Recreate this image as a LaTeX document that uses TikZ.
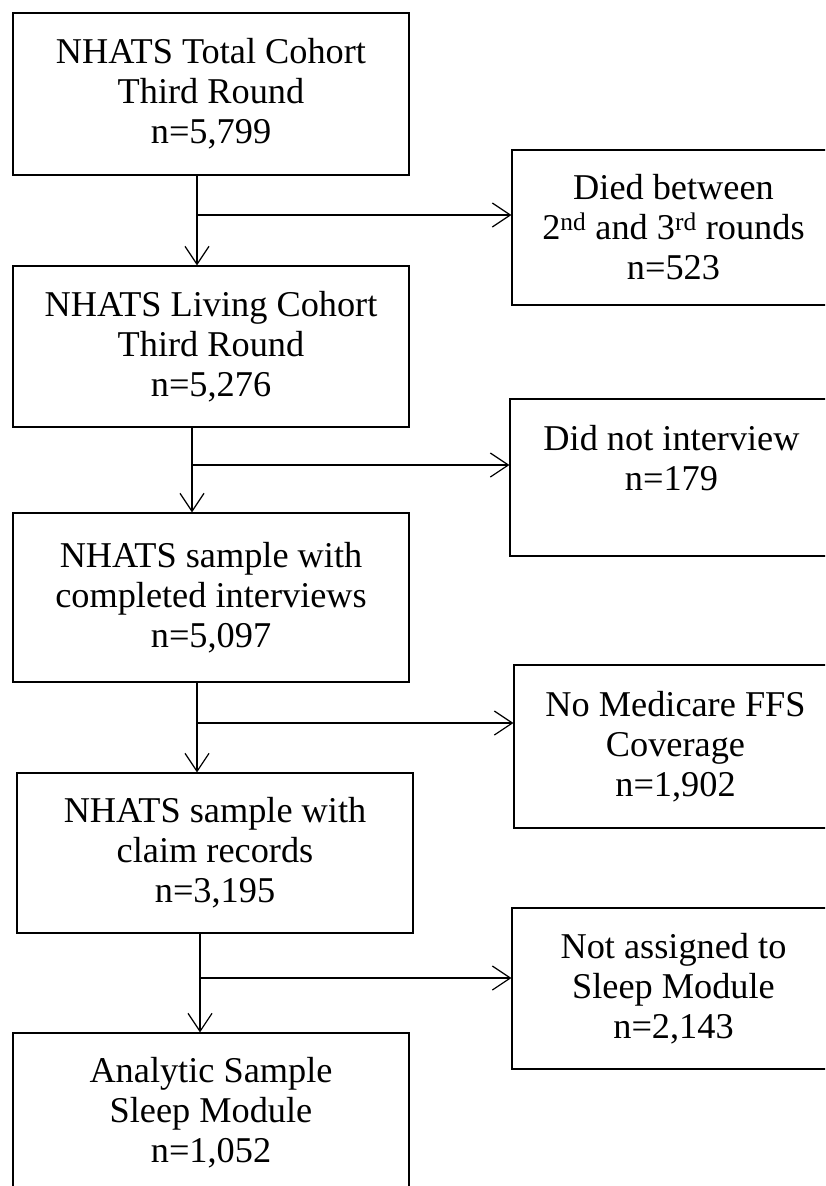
\documentclass[tikz,border=0pt]{standalone}
\usepackage{fontspec}
\setmainfont{Liberation Serif}
\usetikzlibrary{positioning, arrows.meta}

\begin{document}
\begin{tikzpicture}[x=1pt, y=-1pt,
  stage/.style={draw, line width=1.2pt, minimum width=396pt, align=center,
                inner sep=0pt, font=\fontsize{36.3}{40}\selectfont},
  excl/.style={stage, minimum width=323pt},
  flow/.style={line width=1.2pt, -{Straight Barb[length=18pt, width=24pt, line width=1.2pt]}}]
  \useasboundingbox (0,0) rectangle (825,1186);
  \clip (0,0) rectangle (825,1186);

  \node[stage, minimum height=162pt] (total) at (211,94) {NHATS Total Cohort\\Third Round\\n=5,799};
  \node[stage, minimum height=161pt] (living) at (211,346.5) {NHATS Living Cohort\\Third Round\\n=5,276};
  \node[stage, minimum height=169pt] (interv) at (211,597.5) {NHATS sample with\\completed interviews\\n=5,097};
  \node[stage, minimum height=160pt] (claims) at (215,853) {NHATS sample with\\claim records\\n=3,195};
  \node[stage, minimum height=160pt] (analytic) at (211,1113) {Analytic Sample\\Sleep Module\\n=1,052};

  \node[excl, minimum height=155pt] (died) at (673.5,227.5) {Died between\\2\textsuperscript{nd} and 3\textsuperscript{rd} rounds\\n=523};
  \node[excl, minimum height=157pt] (noint) at (671.5,477.5) {Did not interview\\n=179\\\mbox{}};
  \node[excl, minimum height=163pt] (noffs) at (675.5,746.5) {No Medicare FFS\\Coverage\\n=1,902};
  \node[excl, minimum height=161pt] (nosleep) at (673.5,988.5) {Not assigned to\\Sleep Module\\n=2,143};

  \coordinate (s1) at (197,215);
  \coordinate (s2) at (192,465);
  \coordinate (s3) at (197,723);
  \coordinate (s4) at (200,978);

  \draw[flow] (total.south -| s1) -- (living.north -| s1);
  \draw[flow] (s1) -- (s1 -| died.west);
  \draw[flow] (living.south -| s2) -- (interv.north -| s2);
  \draw[flow] (s2) -- (s2 -| noint.west);
  \draw[flow] (interv.south -| s3) -- (claims.north -| s3);
  \draw[flow] (s3) -- (s3 -| noffs.west);
  \draw[flow] (claims.south -| s4) -- (analytic.north -| s4);
  \draw[flow] (s4) -- (s4 -| nosleep.west);
\end{tikzpicture}
\end{document}
